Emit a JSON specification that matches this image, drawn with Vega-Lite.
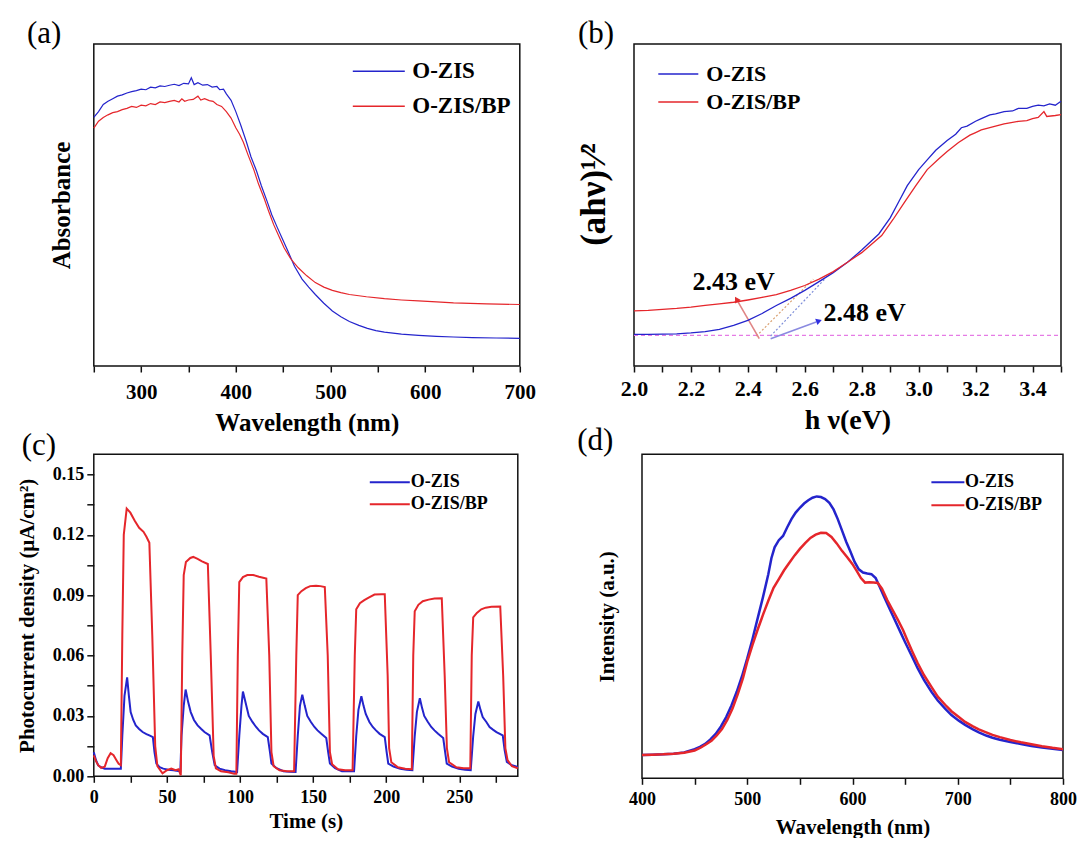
{
"$schema": "https://vega.github.io/schema/vega-lite/v6.json",
"background": "white",
"padding": {"left": 15.8, "top": 17, "right": 0, "bottom": 0},
"config": {
  "font": "Liberation Serif",
  "view": {"stroke": "#111", "strokeWidth": 1.5},
  "axis": {"grid": false, "domain": false, "tickColor": "#111", "tickWidth": 1.5, "tickSize": 6, "labelColor": "black", "titleColor": "black", "labelFont": "Liberation Serif", "titleFont": "Liberation Serif", "labelFontWeight": "bold", "titleFontWeight": "bold", "labelFlush": false, "labelOverlap": false},
  "legend": {"labelFont": "Liberation Serif", "labelFontWeight": "bold", "labelColor": "black", "padding": 0, "orient": "none", "symbolSize": 196, "labelOffset": 0},
  "title": {"font": "Liberation Serif", "fontSize": 31, "fontWeight": "normal", "anchor": "start", "frame": "group", "baseline": "alphabetic", "color": "black"}
},
"datasets": {
  "a": [
    {"x":250,"y":0.772,"sample":"O-ZIS"},{"x":255,"y":0.79,"sample":"O-ZIS"},{"x":260,"y":0.812,"sample":"O-ZIS"},{"x":265,"y":0.822,"sample":"O-ZIS"},{"x":270,"y":0.83,"sample":"O-ZIS"},{"x":275,"y":0.838,"sample":"O-ZIS"},{"x":280,"y":0.842,"sample":"O-ZIS"},{"x":285,"y":0.848,"sample":"O-ZIS"},{"x":290,"y":0.852,"sample":"O-ZIS"},{"x":295,"y":0.855,"sample":"O-ZIS"},{"x":300,"y":0.86,"sample":"O-ZIS"},{"x":305,"y":0.858,"sample":"O-ZIS"},{"x":310,"y":0.866,"sample":"O-ZIS"},{"x":315,"y":0.864,"sample":"O-ZIS"},{"x":320,"y":0.87,"sample":"O-ZIS"},{"x":325,"y":0.868,"sample":"O-ZIS"},{"x":330,"y":0.872,"sample":"O-ZIS"},{"x":335,"y":0.875,"sample":"O-ZIS"},{"x":340,"y":0.871,"sample":"O-ZIS"},{"x":345,"y":0.878,"sample":"O-ZIS"},{"x":350,"y":0.876,"sample":"O-ZIS"},{"x":353,"y":0.895,"sample":"O-ZIS"},{"x":356,"y":0.874,"sample":"O-ZIS"},{"x":360,"y":0.88,"sample":"O-ZIS"},{"x":365,"y":0.872,"sample":"O-ZIS"},{"x":370,"y":0.874,"sample":"O-ZIS"},{"x":375,"y":0.866,"sample":"O-ZIS"},{"x":380,"y":0.868,"sample":"O-ZIS"},{"x":383,"y":0.858,"sample":"O-ZIS"},{"x":387,"y":0.86,"sample":"O-ZIS"},{"x":390,"y":0.845,"sample":"O-ZIS"},{"x":395,"y":0.825,"sample":"O-ZIS"},{"x":400,"y":0.79,"sample":"O-ZIS"},{"x":405,"y":0.75,"sample":"O-ZIS"},{"x":411,"y":0.698,"sample":"O-ZIS"},{"x":416,"y":0.65,"sample":"O-ZIS"},{"x":422,"y":0.605,"sample":"O-ZIS"},{"x":427,"y":0.56,"sample":"O-ZIS"},{"x":433,"y":0.512,"sample":"O-ZIS"},{"x":438,"y":0.47,"sample":"O-ZIS"},{"x":444,"y":0.429,"sample":"O-ZIS"},{"x":450,"y":0.39,"sample":"O-ZIS"},{"x":455,"y":0.357,"sample":"O-ZIS"},{"x":462,"y":0.31,"sample":"O-ZIS"},{"x":470,"y":0.27,"sample":"O-ZIS"},{"x":477,"y":0.245,"sample":"O-ZIS"},{"x":484,"y":0.222,"sample":"O-ZIS"},{"x":493,"y":0.195,"sample":"O-ZIS"},{"x":502,"y":0.171,"sample":"O-ZIS"},{"x":511,"y":0.153,"sample":"O-ZIS"},{"x":520,"y":0.138,"sample":"O-ZIS"},{"x":530,"y":0.126,"sample":"O-ZIS"},{"x":539,"y":0.117,"sample":"O-ZIS"},{"x":548,"y":0.11,"sample":"O-ZIS"},{"x":557,"y":0.105,"sample":"O-ZIS"},{"x":575,"y":0.099,"sample":"O-ZIS"},{"x":593,"y":0.095,"sample":"O-ZIS"},{"x":612,"y":0.092,"sample":"O-ZIS"},{"x":630,"y":0.09,"sample":"O-ZIS"},{"x":650,"y":0.088,"sample":"O-ZIS"},{"x":675,"y":0.087,"sample":"O-ZIS"},{"x":700,"y":0.086,"sample":"O-ZIS"},
    {"x":250,"y":0.739,"sample":"O-ZIS/BP"},{"x":255,"y":0.76,"sample":"O-ZIS/BP"},{"x":260,"y":0.772,"sample":"O-ZIS/BP"},{"x":265,"y":0.78,"sample":"O-ZIS/BP"},{"x":270,"y":0.787,"sample":"O-ZIS/BP"},{"x":275,"y":0.79,"sample":"O-ZIS/BP"},{"x":280,"y":0.796,"sample":"O-ZIS/BP"},{"x":285,"y":0.8,"sample":"O-ZIS/BP"},{"x":290,"y":0.806,"sample":"O-ZIS/BP"},{"x":295,"y":0.803,"sample":"O-ZIS/BP"},{"x":300,"y":0.81,"sample":"O-ZIS/BP"},{"x":305,"y":0.808,"sample":"O-ZIS/BP"},{"x":310,"y":0.815,"sample":"O-ZIS/BP"},{"x":315,"y":0.812,"sample":"O-ZIS/BP"},{"x":320,"y":0.82,"sample":"O-ZIS/BP"},{"x":325,"y":0.818,"sample":"O-ZIS/BP"},{"x":330,"y":0.822,"sample":"O-ZIS/BP"},{"x":335,"y":0.825,"sample":"O-ZIS/BP"},{"x":340,"y":0.82,"sample":"O-ZIS/BP"},{"x":343,"y":0.83,"sample":"O-ZIS/BP"},{"x":346,"y":0.822,"sample":"O-ZIS/BP"},{"x":350,"y":0.826,"sample":"O-ZIS/BP"},{"x":355,"y":0.828,"sample":"O-ZIS/BP"},{"x":360,"y":0.838,"sample":"O-ZIS/BP"},{"x":363,"y":0.826,"sample":"O-ZIS/BP"},{"x":367,"y":0.83,"sample":"O-ZIS/BP"},{"x":372,"y":0.824,"sample":"O-ZIS/BP"},{"x":376,"y":0.822,"sample":"O-ZIS/BP"},{"x":380,"y":0.812,"sample":"O-ZIS/BP"},{"x":385,"y":0.806,"sample":"O-ZIS/BP"},{"x":390,"y":0.79,"sample":"O-ZIS/BP"},{"x":395,"y":0.77,"sample":"O-ZIS/BP"},{"x":400,"y":0.74,"sample":"O-ZIS/BP"},{"x":404,"y":0.72,"sample":"O-ZIS/BP"},{"x":408,"y":0.695,"sample":"O-ZIS/BP"},{"x":413,"y":0.655,"sample":"O-ZIS/BP"},{"x":419,"y":0.61,"sample":"O-ZIS/BP"},{"x":424,"y":0.565,"sample":"O-ZIS/BP"},{"x":430,"y":0.52,"sample":"O-ZIS/BP"},{"x":435,"y":0.478,"sample":"O-ZIS/BP"},{"x":440,"y":0.439,"sample":"O-ZIS/BP"},{"x":446,"y":0.4,"sample":"O-ZIS/BP"},{"x":451,"y":0.367,"sample":"O-ZIS/BP"},{"x":458,"y":0.333,"sample":"O-ZIS/BP"},{"x":466,"y":0.305,"sample":"O-ZIS/BP"},{"x":475,"y":0.28,"sample":"O-ZIS/BP"},{"x":484,"y":0.259,"sample":"O-ZIS/BP"},{"x":493,"y":0.245,"sample":"O-ZIS/BP"},{"x":502,"y":0.235,"sample":"O-ZIS/BP"},{"x":511,"y":0.228,"sample":"O-ZIS/BP"},{"x":520,"y":0.222,"sample":"O-ZIS/BP"},{"x":538,"y":0.215,"sample":"O-ZIS/BP"},{"x":557,"y":0.209,"sample":"O-ZIS/BP"},{"x":575,"y":0.205,"sample":"O-ZIS/BP"},{"x":593,"y":0.202,"sample":"O-ZIS/BP"},{"x":612,"y":0.199,"sample":"O-ZIS/BP"},{"x":630,"y":0.196,"sample":"O-ZIS/BP"},{"x":665,"y":0.193,"sample":"O-ZIS/BP"},{"x":700,"y":0.191,"sample":"O-ZIS/BP"}
  ],
  "b": [
    {"x":2.0,"y":0.098,"sample":"O-ZIS"},{"x":2.05,"y":0.098,"sample":"O-ZIS"},{"x":2.1,"y":0.099,"sample":"O-ZIS"},{"x":2.15,"y":0.1,"sample":"O-ZIS"},{"x":2.2,"y":0.103,"sample":"O-ZIS"},{"x":2.25,"y":0.107,"sample":"O-ZIS"},{"x":2.3,"y":0.114,"sample":"O-ZIS"},{"x":2.35,"y":0.126,"sample":"O-ZIS"},{"x":2.4,"y":0.142,"sample":"O-ZIS"},{"x":2.45,"y":0.163,"sample":"O-ZIS"},{"x":2.5,"y":0.188,"sample":"O-ZIS"},{"x":2.55,"y":0.21,"sample":"O-ZIS"},{"x":2.6,"y":0.235,"sample":"O-ZIS"},{"x":2.65,"y":0.262,"sample":"O-ZIS"},{"x":2.7,"y":0.29,"sample":"O-ZIS"},{"x":2.75,"y":0.322,"sample":"O-ZIS"},{"x":2.8,"y":0.36,"sample":"O-ZIS"},{"x":2.86,"y":0.41,"sample":"O-ZIS"},{"x":2.9,"y":0.46,"sample":"O-ZIS"},{"x":2.93,"y":0.51,"sample":"O-ZIS"},{"x":2.96,"y":0.56,"sample":"O-ZIS"},{"x":3.0,"y":0.61,"sample":"O-ZIS"},{"x":3.03,"y":0.64,"sample":"O-ZIS"},{"x":3.06,"y":0.67,"sample":"O-ZIS"},{"x":3.1,"y":0.7,"sample":"O-ZIS"},{"x":3.13,"y":0.72,"sample":"O-ZIS"},{"x":3.15,"y":0.74,"sample":"O-ZIS"},{"x":3.17,"y":0.745,"sample":"O-ZIS"},{"x":3.2,"y":0.76,"sample":"O-ZIS"},{"x":3.22,"y":0.768,"sample":"O-ZIS"},{"x":3.25,"y":0.78,"sample":"O-ZIS"},{"x":3.27,"y":0.783,"sample":"O-ZIS"},{"x":3.3,"y":0.79,"sample":"O-ZIS"},{"x":3.33,"y":0.792,"sample":"O-ZIS"},{"x":3.35,"y":0.8,"sample":"O-ZIS"},{"x":3.38,"y":0.8,"sample":"O-ZIS"},{"x":3.4,"y":0.806,"sample":"O-ZIS"},{"x":3.42,"y":0.81,"sample":"O-ZIS"},{"x":3.44,"y":0.808,"sample":"O-ZIS"},{"x":3.46,"y":0.814,"sample":"O-ZIS"},{"x":3.48,"y":0.81,"sample":"O-ZIS"},{"x":3.5,"y":0.822,"sample":"O-ZIS"},
    {"x":2.0,"y":0.171,"sample":"O-ZIS/BP"},{"x":2.05,"y":0.173,"sample":"O-ZIS/BP"},{"x":2.1,"y":0.176,"sample":"O-ZIS/BP"},{"x":2.15,"y":0.179,"sample":"O-ZIS/BP"},{"x":2.2,"y":0.183,"sample":"O-ZIS/BP"},{"x":2.25,"y":0.188,"sample":"O-ZIS/BP"},{"x":2.3,"y":0.193,"sample":"O-ZIS/BP"},{"x":2.35,"y":0.198,"sample":"O-ZIS/BP"},{"x":2.4,"y":0.205,"sample":"O-ZIS/BP"},{"x":2.45,"y":0.213,"sample":"O-ZIS/BP"},{"x":2.5,"y":0.222,"sample":"O-ZIS/BP"},{"x":2.55,"y":0.235,"sample":"O-ZIS/BP"},{"x":2.6,"y":0.25,"sample":"O-ZIS/BP"},{"x":2.65,"y":0.27,"sample":"O-ZIS/BP"},{"x":2.7,"y":0.293,"sample":"O-ZIS/BP"},{"x":2.75,"y":0.322,"sample":"O-ZIS/BP"},{"x":2.8,"y":0.352,"sample":"O-ZIS/BP"},{"x":2.87,"y":0.405,"sample":"O-ZIS/BP"},{"x":2.91,"y":0.455,"sample":"O-ZIS/BP"},{"x":2.95,"y":0.508,"sample":"O-ZIS/BP"},{"x":2.99,"y":0.56,"sample":"O-ZIS/BP"},{"x":3.03,"y":0.61,"sample":"O-ZIS/BP"},{"x":3.07,"y":0.643,"sample":"O-ZIS/BP"},{"x":3.1,"y":0.666,"sample":"O-ZIS/BP"},{"x":3.14,"y":0.694,"sample":"O-ZIS/BP"},{"x":3.18,"y":0.717,"sample":"O-ZIS/BP"},{"x":3.2,"y":0.725,"sample":"O-ZIS/BP"},{"x":3.22,"y":0.733,"sample":"O-ZIS/BP"},{"x":3.25,"y":0.74,"sample":"O-ZIS/BP"},{"x":3.27,"y":0.745,"sample":"O-ZIS/BP"},{"x":3.3,"y":0.752,"sample":"O-ZIS/BP"},{"x":3.32,"y":0.755,"sample":"O-ZIS/BP"},{"x":3.35,"y":0.76,"sample":"O-ZIS/BP"},{"x":3.38,"y":0.762,"sample":"O-ZIS/BP"},{"x":3.4,"y":0.768,"sample":"O-ZIS/BP"},{"x":3.42,"y":0.772,"sample":"O-ZIS/BP"},{"x":3.44,"y":0.79,"sample":"O-ZIS/BP"},{"x":3.45,"y":0.775,"sample":"O-ZIS/BP"},{"x":3.48,"y":0.778,"sample":"O-ZIS/BP"},{"x":3.5,"y":0.781,"sample":"O-ZIS/BP"}
  ],
  "b_base": [{"x":2.0,"y":0.095,"x2":3.5,"y2":0.095}],
  "b_tan_red": [{"x":2.43,"y":0.093,"x2":2.63,"y2":0.27}],
  "b_tan_blue": [{"x":2.48,"y":0.093,"x2":2.67,"y2":0.27}],
  "b_arrow_red": [{"x":2.44,"y":0.085,"x2":2.365,"y2":0.2}],
  "b_arrow_blue": [{"x":2.48,"y":0.085,"x2":2.64,"y2":0.137}],
  "b_head_red": [{"x":2.36,"y":0.207}],
  "b_head_blue": [{"x":2.65,"y":0.14}],
  "b_labels": [{"x":2.35,"y":0.26,"label":"2.43 eV"},{"x":2.81,"y":0.166,"label":"2.48 eV"}],
  "c": [
    {"x":0,"y":0.012,"sample":"O-ZIS"},{"x":1.5,"y":0.008,"sample":"O-ZIS"},{"x":3,"y":0.0055,"sample":"O-ZIS"},{"x":5,"y":0.0045,"sample":"O-ZIS"},{"x":7.5,"y":0.0038,"sample":"O-ZIS"},{"x":10,"y":0.0037,"sample":"O-ZIS"},{"x":14,"y":0.0037,"sample":"O-ZIS"},{"x":18.5,"y":0.0037,"sample":"O-ZIS"},{"x":19.5,"y":0.02,"sample":"O-ZIS"},{"x":21,"y":0.04,"sample":"O-ZIS"},{"x":22.8,"y":0.0492,"sample":"O-ZIS"},{"x":24,"y":0.04,"sample":"O-ZIS"},{"x":25.2,"y":0.0319,"sample":"O-ZIS"},{"x":27,"y":0.028,"sample":"O-ZIS"},{"x":28.7,"y":0.0253,"sample":"O-ZIS"},{"x":31,"y":0.0235,"sample":"O-ZIS"},{"x":33.4,"y":0.022,"sample":"O-ZIS"},{"x":36,"y":0.021,"sample":"O-ZIS"},{"x":38,"y":0.0203,"sample":"O-ZIS"},{"x":40.4,"y":0.0195,"sample":"O-ZIS"},{"x":41.5,"y":0.012,"sample":"O-ZIS"},{"x":42.8,"y":0.0063,"sample":"O-ZIS"},{"x":45,"y":0.0045,"sample":"O-ZIS"},{"x":47.5,"y":0.0038,"sample":"O-ZIS"},{"x":51,"y":0.0033,"sample":"O-ZIS"},{"x":54.5,"y":0.003,"sample":"O-ZIS"},{"x":59.2,"y":0.0025,"sample":"O-ZIS"},{"x":60,"y":0.02,"sample":"O-ZIS"},{"x":61.5,"y":0.035,"sample":"O-ZIS"},{"x":62.8,"y":0.0431,"sample":"O-ZIS"},{"x":64.5,"y":0.037,"sample":"O-ZIS"},{"x":66.3,"y":0.0319,"sample":"O-ZIS"},{"x":68.5,"y":0.028,"sample":"O-ZIS"},{"x":71,"y":0.0253,"sample":"O-ZIS"},{"x":73.5,"y":0.0235,"sample":"O-ZIS"},{"x":75.7,"y":0.022,"sample":"O-ZIS"},{"x":79.2,"y":0.0203,"sample":"O-ZIS"},{"x":81,"y":0.012,"sample":"O-ZIS"},{"x":82.7,"y":0.0055,"sample":"O-ZIS"},{"x":86,"y":0.0038,"sample":"O-ZIS"},{"x":89.8,"y":0.003,"sample":"O-ZIS"},{"x":94,"y":0.0025,"sample":"O-ZIS"},{"x":98,"y":0.0021,"sample":"O-ZIS"},{"x":99.5,"y":0.02,"sample":"O-ZIS"},{"x":101,"y":0.035,"sample":"O-ZIS"},{"x":102,"y":0.0421,"sample":"O-ZIS"},{"x":104,"y":0.036,"sample":"O-ZIS"},{"x":106,"y":0.03,"sample":"O-ZIS"},{"x":108.5,"y":0.027,"sample":"O-ZIS"},{"x":111,"y":0.0245,"sample":"O-ZIS"},{"x":113,"y":0.0228,"sample":"O-ZIS"},{"x":115.6,"y":0.0211,"sample":"O-ZIS"},{"x":119,"y":0.0195,"sample":"O-ZIS"},{"x":120.5,"y":0.012,"sample":"O-ZIS"},{"x":121.5,"y":0.0063,"sample":"O-ZIS"},{"x":125,"y":0.004,"sample":"O-ZIS"},{"x":129.7,"y":0.0025,"sample":"O-ZIS"},{"x":134,"y":0.0022,"sample":"O-ZIS"},{"x":138,"y":0.0021,"sample":"O-ZIS"},{"x":139.5,"y":0.02,"sample":"O-ZIS"},{"x":141,"y":0.035,"sample":"O-ZIS"},{"x":142.6,"y":0.0406,"sample":"O-ZIS"},{"x":144.3,"y":0.035,"sample":"O-ZIS"},{"x":146,"y":0.03,"sample":"O-ZIS"},{"x":148.5,"y":0.027,"sample":"O-ZIS"},{"x":150.9,"y":0.0245,"sample":"O-ZIS"},{"x":153,"y":0.0228,"sample":"O-ZIS"},{"x":155.6,"y":0.0211,"sample":"O-ZIS"},{"x":159,"y":0.019,"sample":"O-ZIS"},{"x":160.3,"y":0.012,"sample":"O-ZIS"},{"x":161.5,"y":0.0063,"sample":"O-ZIS"},{"x":165,"y":0.004,"sample":"O-ZIS"},{"x":169.7,"y":0.0025,"sample":"O-ZIS"},{"x":174,"y":0.0025,"sample":"O-ZIS"},{"x":178,"y":0.0025,"sample":"O-ZIS"},{"x":179.5,"y":0.02,"sample":"O-ZIS"},{"x":181,"y":0.033,"sample":"O-ZIS"},{"x":183,"y":0.0398,"sample":"O-ZIS"},{"x":184.5,"y":0.035,"sample":"O-ZIS"},{"x":186,"y":0.031,"sample":"O-ZIS"},{"x":188.5,"y":0.027,"sample":"O-ZIS"},{"x":190.8,"y":0.0245,"sample":"O-ZIS"},{"x":193,"y":0.0228,"sample":"O-ZIS"},{"x":195.5,"y":0.0211,"sample":"O-ZIS"},{"x":199,"y":0.0195,"sample":"O-ZIS"},{"x":200.3,"y":0.012,"sample":"O-ZIS"},{"x":201.4,"y":0.0063,"sample":"O-ZIS"},{"x":205,"y":0.0048,"sample":"O-ZIS"},{"x":209.6,"y":0.0038,"sample":"O-ZIS"},{"x":214,"y":0.0033,"sample":"O-ZIS"},{"x":217.9,"y":0.003,"sample":"O-ZIS"},{"x":219.5,"y":0.02,"sample":"O-ZIS"},{"x":221,"y":0.032,"sample":"O-ZIS"},{"x":223,"y":0.0388,"sample":"O-ZIS"},{"x":224.5,"y":0.034,"sample":"O-ZIS"},{"x":226,"y":0.03,"sample":"O-ZIS"},{"x":228.5,"y":0.027,"sample":"O-ZIS"},{"x":230.8,"y":0.0245,"sample":"O-ZIS"},{"x":233,"y":0.0228,"sample":"O-ZIS"},{"x":235.5,"y":0.0211,"sample":"O-ZIS"},{"x":239,"y":0.019,"sample":"O-ZIS"},{"x":240.3,"y":0.012,"sample":"O-ZIS"},{"x":241.4,"y":0.0063,"sample":"O-ZIS"},{"x":245,"y":0.0048,"sample":"O-ZIS"},{"x":249.6,"y":0.0038,"sample":"O-ZIS"},{"x":254,"y":0.0033,"sample":"O-ZIS"},{"x":257.8,"y":0.003,"sample":"O-ZIS"},{"x":259.5,"y":0.02,"sample":"O-ZIS"},{"x":261,"y":0.031,"sample":"O-ZIS"},{"x":263,"y":0.0372,"sample":"O-ZIS"},{"x":264.5,"y":0.033,"sample":"O-ZIS"},{"x":266,"y":0.0294,"sample":"O-ZIS"},{"x":268.5,"y":0.027,"sample":"O-ZIS"},{"x":270.7,"y":0.0245,"sample":"O-ZIS"},{"x":273,"y":0.0232,"sample":"O-ZIS"},{"x":275.4,"y":0.022,"sample":"O-ZIS"},{"x":279.7,"y":0.0203,"sample":"O-ZIS"},{"x":281,"y":0.013,"sample":"O-ZIS"},{"x":282.5,"y":0.0071,"sample":"O-ZIS"},{"x":286,"y":0.0055,"sample":"O-ZIS"},{"x":290,"y":0.0046,"sample":"O-ZIS"},
    {"x":0,"y":0.0104,"sample":"O-ZIS/BP"},{"x":1.5,"y":0.0075,"sample":"O-ZIS/BP"},{"x":3,"y":0.0055,"sample":"O-ZIS/BP"},{"x":5,"y":0.0042,"sample":"O-ZIS/BP"},{"x":7.5,"y":0.0048,"sample":"O-ZIS/BP"},{"x":9.5,"y":0.009,"sample":"O-ZIS/BP"},{"x":11.5,"y":0.0115,"sample":"O-ZIS/BP"},{"x":13.5,"y":0.0105,"sample":"O-ZIS/BP"},{"x":15.5,"y":0.008,"sample":"O-ZIS/BP"},{"x":17,"y":0.0062,"sample":"O-ZIS/BP"},{"x":18.5,"y":0.0055,"sample":"O-ZIS/BP"},{"x":19.5,"y":0.07,"sample":"O-ZIS/BP"},{"x":20.5,"y":0.12,"sample":"O-ZIS/BP"},{"x":22.5,"y":0.133,"sample":"O-ZIS/BP"},{"x":25,"y":0.131,"sample":"O-ZIS/BP"},{"x":28,"y":0.127,"sample":"O-ZIS/BP"},{"x":31,"y":0.1235,"sample":"O-ZIS/BP"},{"x":34,"y":0.1215,"sample":"O-ZIS/BP"},{"x":36,"y":0.119,"sample":"O-ZIS/BP"},{"x":38,"y":0.116,"sample":"O-ZIS/BP"},{"x":40,"y":0.07,"sample":"O-ZIS/BP"},{"x":42,"y":0.015,"sample":"O-ZIS/BP"},{"x":43.5,"y":0.005,"sample":"O-ZIS/BP"},{"x":47,"y":0.0015,"sample":"O-ZIS/BP"},{"x":50,"y":0.003,"sample":"O-ZIS/BP"},{"x":53,"y":0.0038,"sample":"O-ZIS/BP"},{"x":56,"y":0.003,"sample":"O-ZIS/BP"},{"x":58,"y":0.0035,"sample":"O-ZIS/BP"},{"x":59.5,"y":0.0005,"sample":"O-ZIS/BP"},{"x":60.5,"y":0.06,"sample":"O-ZIS/BP"},{"x":61.5,"y":0.1,"sample":"O-ZIS/BP"},{"x":63,"y":0.1065,"sample":"O-ZIS/BP"},{"x":66,"y":0.1085,"sample":"O-ZIS/BP"},{"x":68,"y":0.109,"sample":"O-ZIS/BP"},{"x":71,"y":0.108,"sample":"O-ZIS/BP"},{"x":74,"y":0.1068,"sample":"O-ZIS/BP"},{"x":78,"y":0.1055,"sample":"O-ZIS/BP"},{"x":80,"y":0.06,"sample":"O-ZIS/BP"},{"x":82,"y":0.01,"sample":"O-ZIS/BP"},{"x":83.5,"y":0.004,"sample":"O-ZIS/BP"},{"x":87,"y":0.0025,"sample":"O-ZIS/BP"},{"x":92,"y":0.002,"sample":"O-ZIS/BP"},{"x":96,"y":0.0013,"sample":"O-ZIS/BP"},{"x":97.5,"y":0.0013,"sample":"O-ZIS/BP"},{"x":98.5,"y":0.06,"sample":"O-ZIS/BP"},{"x":99.5,"y":0.0965,"sample":"O-ZIS/BP"},{"x":102,"y":0.099,"sample":"O-ZIS/BP"},{"x":105,"y":0.1,"sample":"O-ZIS/BP"},{"x":109,"y":0.1,"sample":"O-ZIS/BP"},{"x":113,"y":0.0992,"sample":"O-ZIS/BP"},{"x":118,"y":0.0983,"sample":"O-ZIS/BP"},{"x":120,"y":0.06,"sample":"O-ZIS/BP"},{"x":121.5,"y":0.012,"sample":"O-ZIS/BP"},{"x":123,"y":0.005,"sample":"O-ZIS/BP"},{"x":127,"y":0.003,"sample":"O-ZIS/BP"},{"x":132,"y":0.0025,"sample":"O-ZIS/BP"},{"x":137,"y":0.0025,"sample":"O-ZIS/BP"},{"x":138.5,"y":0.06,"sample":"O-ZIS/BP"},{"x":139.5,"y":0.09,"sample":"O-ZIS/BP"},{"x":142,"y":0.092,"sample":"O-ZIS/BP"},{"x":145,"y":0.0935,"sample":"O-ZIS/BP"},{"x":148,"y":0.0945,"sample":"O-ZIS/BP"},{"x":152,"y":0.0947,"sample":"O-ZIS/BP"},{"x":155,"y":0.0945,"sample":"O-ZIS/BP"},{"x":158,"y":0.094,"sample":"O-ZIS/BP"},{"x":160,"y":0.06,"sample":"O-ZIS/BP"},{"x":161.5,"y":0.012,"sample":"O-ZIS/BP"},{"x":163,"y":0.006,"sample":"O-ZIS/BP"},{"x":167,"y":0.0035,"sample":"O-ZIS/BP"},{"x":172,"y":0.003,"sample":"O-ZIS/BP"},{"x":177,"y":0.003,"sample":"O-ZIS/BP"},{"x":178.5,"y":0.06,"sample":"O-ZIS/BP"},{"x":179.5,"y":0.083,"sample":"O-ZIS/BP"},{"x":182,"y":0.086,"sample":"O-ZIS/BP"},{"x":185,"y":0.0875,"sample":"O-ZIS/BP"},{"x":188,"y":0.0888,"sample":"O-ZIS/BP"},{"x":192,"y":0.0903,"sample":"O-ZIS/BP"},{"x":197,"y":0.0905,"sample":"O-ZIS/BP"},{"x":199,"y":0.0905,"sample":"O-ZIS/BP"},{"x":201,"y":0.05,"sample":"O-ZIS/BP"},{"x":202,"y":0.014,"sample":"O-ZIS/BP"},{"x":203.5,"y":0.007,"sample":"O-ZIS/BP"},{"x":208,"y":0.0045,"sample":"O-ZIS/BP"},{"x":213,"y":0.0038,"sample":"O-ZIS/BP"},{"x":217.5,"y":0.0035,"sample":"O-ZIS/BP"},{"x":218.5,"y":0.06,"sample":"O-ZIS/BP"},{"x":219.5,"y":0.082,"sample":"O-ZIS/BP"},{"x":222,"y":0.0852,"sample":"O-ZIS/BP"},{"x":225,"y":0.087,"sample":"O-ZIS/BP"},{"x":229,"y":0.0878,"sample":"O-ZIS/BP"},{"x":233,"y":0.0883,"sample":"O-ZIS/BP"},{"x":238,"y":0.0885,"sample":"O-ZIS/BP"},{"x":240,"y":0.05,"sample":"O-ZIS/BP"},{"x":241.5,"y":0.014,"sample":"O-ZIS/BP"},{"x":243,"y":0.007,"sample":"O-ZIS/BP"},{"x":248,"y":0.0045,"sample":"O-ZIS/BP"},{"x":253,"y":0.004,"sample":"O-ZIS/BP"},{"x":257.5,"y":0.004,"sample":"O-ZIS/BP"},{"x":258.5,"y":0.06,"sample":"O-ZIS/BP"},{"x":259.5,"y":0.079,"sample":"O-ZIS/BP"},{"x":262,"y":0.0812,"sample":"O-ZIS/BP"},{"x":265,"y":0.083,"sample":"O-ZIS/BP"},{"x":268,"y":0.0838,"sample":"O-ZIS/BP"},{"x":272,"y":0.0842,"sample":"O-ZIS/BP"},{"x":278,"y":0.0843,"sample":"O-ZIS/BP"},{"x":280,"y":0.05,"sample":"O-ZIS/BP"},{"x":281.5,"y":0.014,"sample":"O-ZIS/BP"},{"x":283,"y":0.008,"sample":"O-ZIS/BP"},{"x":286,"y":0.005,"sample":"O-ZIS/BP"},{"x":290,"y":0.004,"sample":"O-ZIS/BP"}
  ],
  "d": [
    {"x":400,"y":0.072,"sample":"O-ZIS"},{"x":410,"y":0.073,"sample":"O-ZIS"},{"x":420,"y":0.074,"sample":"O-ZIS"},{"x":430,"y":0.076,"sample":"O-ZIS"},{"x":440,"y":0.08,"sample":"O-ZIS"},{"x":450,"y":0.09,"sample":"O-ZIS"},{"x":455,"y":0.097,"sample":"O-ZIS"},{"x":460,"y":0.106,"sample":"O-ZIS"},{"x":465,"y":0.12,"sample":"O-ZIS"},{"x":470,"y":0.137,"sample":"O-ZIS"},{"x":475,"y":0.16,"sample":"O-ZIS"},{"x":480,"y":0.189,"sample":"O-ZIS"},{"x":485,"y":0.225,"sample":"O-ZIS"},{"x":490,"y":0.267,"sample":"O-ZIS"},{"x":495,"y":0.315,"sample":"O-ZIS"},{"x":500,"y":0.37,"sample":"O-ZIS"},{"x":505,"y":0.43,"sample":"O-ZIS"},{"x":510,"y":0.495,"sample":"O-ZIS"},{"x":515,"y":0.56,"sample":"O-ZIS"},{"x":520,"y":0.63,"sample":"O-ZIS"},{"x":523,"y":0.68,"sample":"O-ZIS"},{"x":526,"y":0.713,"sample":"O-ZIS"},{"x":530,"y":0.735,"sample":"O-ZIS"},{"x":534,"y":0.748,"sample":"O-ZIS"},{"x":538,"y":0.775,"sample":"O-ZIS"},{"x":542,"y":0.8,"sample":"O-ZIS"},{"x":546,"y":0.82,"sample":"O-ZIS"},{"x":550,"y":0.835,"sample":"O-ZIS"},{"x":554,"y":0.848,"sample":"O-ZIS"},{"x":558,"y":0.858,"sample":"O-ZIS"},{"x":562,"y":0.866,"sample":"O-ZIS"},{"x":566,"y":0.87,"sample":"O-ZIS"},{"x":570,"y":0.868,"sample":"O-ZIS"},{"x":574,"y":0.862,"sample":"O-ZIS"},{"x":578,"y":0.85,"sample":"O-ZIS"},{"x":582,"y":0.83,"sample":"O-ZIS"},{"x":586,"y":0.8,"sample":"O-ZIS"},{"x":590,"y":0.765,"sample":"O-ZIS"},{"x":594,"y":0.73,"sample":"O-ZIS"},{"x":598,"y":0.7,"sample":"O-ZIS"},{"x":602,"y":0.668,"sample":"O-ZIS"},{"x":606,"y":0.645,"sample":"O-ZIS"},{"x":610,"y":0.635,"sample":"O-ZIS"},{"x":614,"y":0.632,"sample":"O-ZIS"},{"x":618,"y":0.63,"sample":"O-ZIS"},{"x":622,"y":0.618,"sample":"O-ZIS"},{"x":626,"y":0.59,"sample":"O-ZIS"},{"x":630,"y":0.56,"sample":"O-ZIS"},{"x":635,"y":0.525,"sample":"O-ZIS"},{"x":640,"y":0.49,"sample":"O-ZIS"},{"x":645,"y":0.455,"sample":"O-ZIS"},{"x":650,"y":0.42,"sample":"O-ZIS"},{"x":656,"y":0.38,"sample":"O-ZIS"},{"x":662,"y":0.339,"sample":"O-ZIS"},{"x":668,"y":0.303,"sample":"O-ZIS"},{"x":675,"y":0.267,"sample":"O-ZIS"},{"x":681,"y":0.24,"sample":"O-ZIS"},{"x":688,"y":0.215,"sample":"O-ZIS"},{"x":694,"y":0.195,"sample":"O-ZIS"},{"x":701,"y":0.178,"sample":"O-ZIS"},{"x":707,"y":0.165,"sample":"O-ZIS"},{"x":714,"y":0.152,"sample":"O-ZIS"},{"x":720,"y":0.142,"sample":"O-ZIS"},{"x":727,"y":0.132,"sample":"O-ZIS"},{"x":733,"y":0.125,"sample":"O-ZIS"},{"x":740,"y":0.119,"sample":"O-ZIS"},{"x":750,"y":0.112,"sample":"O-ZIS"},{"x":760,"y":0.106,"sample":"O-ZIS"},{"x":770,"y":0.1,"sample":"O-ZIS"},{"x":780,"y":0.095,"sample":"O-ZIS"},{"x":790,"y":0.091,"sample":"O-ZIS"},{"x":800,"y":0.087,"sample":"O-ZIS"},
    {"x":400,"y":0.072,"sample":"O-ZIS/BP"},{"x":410,"y":0.073,"sample":"O-ZIS/BP"},{"x":420,"y":0.074,"sample":"O-ZIS/BP"},{"x":430,"y":0.076,"sample":"O-ZIS/BP"},{"x":440,"y":0.079,"sample":"O-ZIS/BP"},{"x":450,"y":0.086,"sample":"O-ZIS/BP"},{"x":456,"y":0.095,"sample":"O-ZIS/BP"},{"x":461,"y":0.105,"sample":"O-ZIS/BP"},{"x":466,"y":0.116,"sample":"O-ZIS/BP"},{"x":471,"y":0.132,"sample":"O-ZIS/BP"},{"x":476,"y":0.152,"sample":"O-ZIS/BP"},{"x":481,"y":0.18,"sample":"O-ZIS/BP"},{"x":486,"y":0.215,"sample":"O-ZIS/BP"},{"x":491,"y":0.26,"sample":"O-ZIS/BP"},{"x":496,"y":0.31,"sample":"O-ZIS/BP"},{"x":500,"y":0.36,"sample":"O-ZIS/BP"},{"x":505,"y":0.412,"sample":"O-ZIS/BP"},{"x":510,"y":0.46,"sample":"O-ZIS/BP"},{"x":515,"y":0.505,"sample":"O-ZIS/BP"},{"x":520,"y":0.548,"sample":"O-ZIS/BP"},{"x":525,"y":0.588,"sample":"O-ZIS/BP"},{"x":530,"y":0.615,"sample":"O-ZIS/BP"},{"x":535,"y":0.642,"sample":"O-ZIS/BP"},{"x":540,"y":0.665,"sample":"O-ZIS/BP"},{"x":545,"y":0.688,"sample":"O-ZIS/BP"},{"x":550,"y":0.708,"sample":"O-ZIS/BP"},{"x":555,"y":0.726,"sample":"O-ZIS/BP"},{"x":560,"y":0.742,"sample":"O-ZIS/BP"},{"x":565,"y":0.752,"sample":"O-ZIS/BP"},{"x":570,"y":0.758,"sample":"O-ZIS/BP"},{"x":575,"y":0.757,"sample":"O-ZIS/BP"},{"x":580,"y":0.745,"sample":"O-ZIS/BP"},{"x":585,"y":0.725,"sample":"O-ZIS/BP"},{"x":590,"y":0.702,"sample":"O-ZIS/BP"},{"x":595,"y":0.682,"sample":"O-ZIS/BP"},{"x":600,"y":0.661,"sample":"O-ZIS/BP"},{"x":604,"y":0.64,"sample":"O-ZIS/BP"},{"x":608,"y":0.618,"sample":"O-ZIS/BP"},{"x":612,"y":0.604,"sample":"O-ZIS/BP"},{"x":616,"y":0.605,"sample":"O-ZIS/BP"},{"x":620,"y":0.604,"sample":"O-ZIS/BP"},{"x":624,"y":0.603,"sample":"O-ZIS/BP"},{"x":628,"y":0.585,"sample":"O-ZIS/BP"},{"x":633,"y":0.55,"sample":"O-ZIS/BP"},{"x":638,"y":0.52,"sample":"O-ZIS/BP"},{"x":643,"y":0.49,"sample":"O-ZIS/BP"},{"x":648,"y":0.458,"sample":"O-ZIS/BP"},{"x":652,"y":0.427,"sample":"O-ZIS/BP"},{"x":657,"y":0.39,"sample":"O-ZIS/BP"},{"x":662,"y":0.355,"sample":"O-ZIS/BP"},{"x":668,"y":0.318,"sample":"O-ZIS/BP"},{"x":675,"y":0.282,"sample":"O-ZIS/BP"},{"x":681,"y":0.252,"sample":"O-ZIS/BP"},{"x":688,"y":0.227,"sample":"O-ZIS/BP"},{"x":694,"y":0.207,"sample":"O-ZIS/BP"},{"x":701,"y":0.189,"sample":"O-ZIS/BP"},{"x":707,"y":0.174,"sample":"O-ZIS/BP"},{"x":714,"y":0.161,"sample":"O-ZIS/BP"},{"x":720,"y":0.151,"sample":"O-ZIS/BP"},{"x":727,"y":0.142,"sample":"O-ZIS/BP"},{"x":733,"y":0.134,"sample":"O-ZIS/BP"},{"x":740,"y":0.127,"sample":"O-ZIS/BP"},{"x":750,"y":0.118,"sample":"O-ZIS/BP"},{"x":760,"y":0.111,"sample":"O-ZIS/BP"},{"x":770,"y":0.105,"sample":"O-ZIS/BP"},{"x":780,"y":0.099,"sample":"O-ZIS/BP"},{"x":790,"y":0.094,"sample":"O-ZIS/BP"},{"x":800,"y":0.09,"sample":"O-ZIS/BP"}
  ]
},
"resolve": {"scale": {"color": "independent"}, "legend": {"color": "independent"}},
"columns": 2,
"align": {"row": "each", "column": "none"},
"spacing": {"row": -12.7, "column": 39.2},
"concat": [
  {
    "width": 426, "height": 322,
    "title": {"text": "(a)", "dx": -66.8, "offset": -6.3},
    "data": {"name": "a"},
    "mark": {"type": "line", "strokeWidth": 1.2},
    "encoding": {
      "x": {"field": "x", "type": "quantitative", "scale": {"domain": [250, 700], "nice": false, "zero": false},
            "axis": {"title": "Wavelength (nm)", "values": [250,300,350,400,450,500,550,600,650,700], "labelExpr": "datum.value % 100 == 0 && datum.value > 250 ? datum.label : ''", "labelFontSize": 21, "titleFontSize": 25, "labelPadding": 9.5, "titlePadding": 8.4}},
      "y": {"field": "y", "type": "quantitative", "scale": {"domain": [0, 1], "nice": false},
            "axis": {"title": "Absorbance", "labels": false, "ticks": false, "titleFontSize": 25, "titlePadding": 19.5, "minExtent": 0, "maxExtent": 0}},
      "color": {"field": "sample", "type": "nominal", "scale": {"domain": ["O-ZIS", "O-ZIS/BP"], "range": ["#2424cc", "#e5262b"]},
                "legend": {"title": null, "legendX": 295.5, "legendY": 15.8, "symbolType": "M-6.857,0H0.571", "symbolStrokeWidth": 1.5, "labelFontSize": 23, "rowPadding": 11}}
    }
  },
  {
    "width": 427, "height": 322,
    "title": {"text": "(b)", "dx": -56, "offset": -6},
    "encoding": {
      "x": {"field": "x", "type": "quantitative", "scale": {"domain": [2.0, 3.5], "nice": false, "zero": false},
            "axis": {"title": "h ν(eV)", "values": [2.0,2.1,2.2,2.3,2.4,2.5,2.6,2.7,2.8,2.9,3.0,3.1,3.2,3.3,3.4,3.5], "labelExpr": "round(datum.value*10) % 2 == 0 && datum.value < 3.45 ? format(datum.value, '.1f') : ''", "labelFontSize": 22, "titleFontSize": 28, "labelPadding": 6.1, "titlePadding": 7.3}},
      "y": {"field": "y", "type": "quantitative", "scale": {"domain": [0, 1], "nice": false},
            "axis": {"title": "(ahν)¹⁄²", "labels": false, "ticks": false, "titleFontSize": 35, "titlePadding": 22.2, "titleY": 150, "minExtent": 0, "maxExtent": 0}}
    },
    "layer": [
      {"data": {"name": "b_base"}, "mark": {"type": "rule", "color": "#e57be5", "strokeDash": [4, 3], "strokeWidth": 1.2}, "encoding": {"x2": {"field": "x2"}, "y2": {"field": "y2"}}},
      {"data": {"name": "b_tan_red"}, "mark": {"type": "rule", "color": "#d9a070", "strokeDash": [2, 2], "strokeWidth": 1.2}, "encoding": {"x2": {"field": "x2"}, "y2": {"field": "y2"}}},
      {"data": {"name": "b_tan_blue"}, "mark": {"type": "rule", "color": "#7f8fd9", "strokeDash": [2, 2], "strokeWidth": 1.2}, "encoding": {"x2": {"field": "x2"}, "y2": {"field": "y2"}}},
      {"data": {"name": "b_arrow_red"}, "mark": {"type": "rule", "color": "#e08585", "strokeWidth": 1.6}, "encoding": {"x2": {"field": "x2"}, "y2": {"field": "y2"}}},
      {"data": {"name": "b_arrow_blue"}, "mark": {"type": "rule", "color": "#8a8ae0", "strokeWidth": 1.6}, "encoding": {"x2": {"field": "x2"}, "y2": {"field": "y2"}}},
      {"data": {"name": "b_head_red"}, "mark": {"type": "point", "shape": "triangle-up", "filled": true, "color": "#e03030", "size": 45, "angle": 329, "opacity": 1}},
      {"data": {"name": "b_head_blue"}, "mark": {"type": "point", "shape": "triangle-up", "filled": true, "color": "#3030e0", "size": 45, "angle": 70, "opacity": 1}},
      {"data": {"name": "b"}, "mark": {"type": "line", "strokeWidth": 1.3},
       "encoding": {"color": {"field": "sample", "type": "nominal", "scale": {"domain": ["O-ZIS", "O-ZIS/BP"], "range": ["#2424cc", "#e5262b"]},
                "legend": {"title": null, "legendX": 50.3, "legendY": 19, "symbolType": "M-5.286,0H0.429", "symbolStrokeWidth": 1.5, "labelFontSize": 22, "rowPadding": 6}}}},
      {"data": {"name": "b_labels"}, "mark": {"type": "text", "font": "Liberation Serif", "fontWeight": "bold", "fontSize": 26, "color": "black", "align": "center", "baseline": "middle"}, "encoding": {"text": {"field": "label"}}}
    ]
  },
  {
    "width": 424, "height": 322,
    "title": {"text": "(c)", "dx": -72, "offset": -7.5},
    "data": {"name": "c"},
    "mark": {"type": "line", "strokeWidth": 2},
    "encoding": {
      "x": {"field": "x", "type": "quantitative", "scale": {"domain": [0, 290], "nice": false, "zero": false},
            "axis": {"title": "Time (s)", "values": [0,25,50,75,100,125,150,175,200,225,250,275], "labelExpr": "datum.value % 50 == 0 ? datum.label : ''", "labelFontSize": 18, "titleFontSize": 21, "labelPadding": 5.9, "titlePadding": 4.1}},
      "y": {"field": "y", "type": "quantitative", "scale": {"domain": [0, 0.16], "nice": false},
            "axis": {"title": "Photocurrent density (μA/cm²)", "values": [0,0.015,0.03,0.045,0.06,0.075,0.09,0.105,0.12,0.135,0.15], "labelExpr": "round(datum.value*1000) % 30 == 0 ? format(datum.value, '.2f') : ''", "labelFontSize": 18, "titleFontSize": 21, "tickSize": 7, "labelPadding": 3, "titlePadding": 14.5}},
      "color": {"field": "sample", "type": "nominal", "scale": {"domain": ["O-ZIS", "O-ZIS/BP"], "range": ["#2424cc", "#e5262b"]},
                "legend": {"title": null, "legendX": 299, "legendY": 19, "symbolType": "M-4.571,0H1.143", "symbolStrokeWidth": 2, "labelFontSize": 18, "rowPadding": 4}}
    }
  },
  {
    "width": 421, "height": 324,
    "title": {"text": "(d)", "dx": -64.8, "offset": -3},
    "data": {"name": "d"},
    "mark": {"type": "line", "strokeWidth": 2.5},
    "encoding": {
      "x": {"field": "x", "type": "quantitative", "scale": {"domain": [400, 800], "nice": false, "zero": false},
            "axis": {"title": "Wavelength (nm)", "values": [400,450,500,550,600,650,700,750,800], "labelExpr": "datum.value % 100 == 0 ? datum.label : ''", "labelFontSize": 18, "titleFontSize": 21, "labelPadding": 5.9, "titlePadding": 7.9}},
      "y": {"field": "y", "type": "quantitative", "scale": {"domain": [0, 1], "nice": false},
            "axis": {"title": "Intensity (a.u.)", "labels": false, "ticks": false, "titleFontSize": 21, "titlePadding": 24, "minExtent": 0, "maxExtent": 0}},
      "color": {"field": "sample", "type": "nominal", "scale": {"domain": ["O-ZIS", "O-ZIS/BP"], "range": ["#2424cc", "#e5262b"]},
                "legend": {"title": null, "legendX": 305, "legendY": 19, "symbolType": "M-3.514,0H1.2", "symbolStrokeWidth": 2, "labelFontSize": 18, "rowPadding": 5}}
    }
  }
]
}
